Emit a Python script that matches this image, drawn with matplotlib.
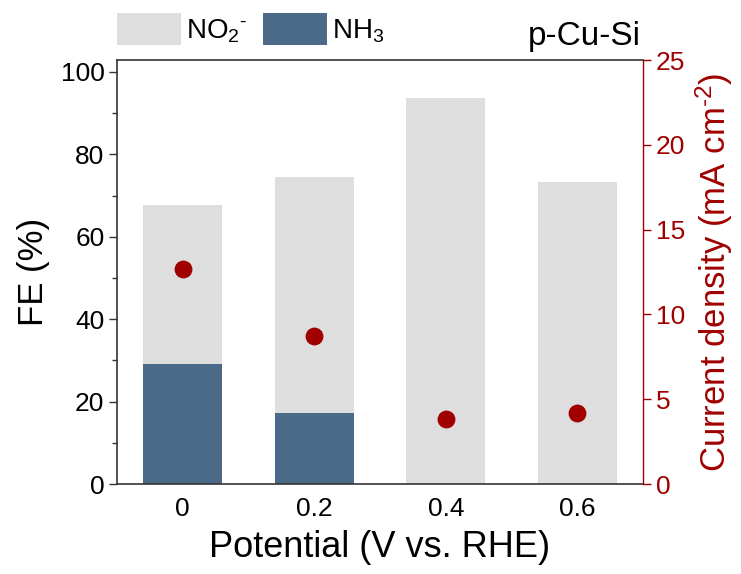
import matplotlib
matplotlib.use("Agg")
import matplotlib.pyplot as plt
import numpy as np

plt.rcParams['font.family'] = ['Liberation Sans', 'DejaVu Sans']
plt.rcParams['mathtext.fontset'] = 'custom'
plt.rcParams['mathtext.rm'] = 'Liberation Sans'
plt.rcParams['mathtext.it'] = 'Liberation Sans:italic'
plt.rcParams['mathtext.bf'] = 'Liberation Sans:bold'

potentials = ['0', '0.2', '0.4', '0.6']
fe_nh3 = [29.1, 17.2, 0.0, 0.0]
fe_no2 = [38.7, 57.3, 93.6, 73.4]
current_density = [12.7, 8.75, 3.83, 4.17]

c_no2 = '#DEDEDE'
c_nh3 = '#4B6A87'
c_red = '#A00000'

HY = '\u2010'  # short hyphen used as the superscript charge sign

fig = plt.figure(figsize=(7.41, 5.74), dpi=100)
ax = fig.add_axes([117/741, 1-484/574, (643-117)/741, (484-60)/574])
x = np.arange(len(potentials))

b1 = ax.bar(x, fe_nh3, width=0.6, color=c_nh3, zorder=2)
b2 = ax.bar(x, fe_no2, width=0.6, bottom=fe_nh3, color=c_no2, zorder=2)

ax.set_xlim(-0.5, 3.5)
ax.set_ylim(0, 102.9)
ax.set_xticks(x)
ax.set_xticklabels(potentials)
ax.set_yticks([0, 20, 40, 60, 80, 100])
ax.set_yticks([10, 30, 50, 70, 90], minor=True)
ax.tick_params(axis='x', length=0, pad=9, labelsize=19)
ax.tick_params(axis='y', which='major', length=6, width=1, direction='out',
               labelsize=19, pad=3, color='#333333')
ax.tick_params(axis='y', which='minor', length=3.5, width=1, direction='out',
               color='#333333')
for s in ['left', 'bottom', 'top']:
    ax.spines[s].set_color('#333333')
    ax.spines[s].set_linewidth(1.2)
ax.spines['right'].set_visible(False)
ax.set_ylabel('FE (%)', fontsize=25, labelpad=8)
ax.set_xlabel('Potential (V vs. RHE)', fontsize=26, labelpad=7)

ax2 = ax.twinx()
ax2.scatter(x, current_density, s=140, color=c_red, zorder=3)
ax2.set_ylim(0, 25)
ax2.set_yticks([0, 5, 10, 15, 20, 25])
ax2.tick_params(axis='y', length=6, width=1, direction='out', colors=c_red,
                labelsize=19, pad=3)
ax2.spines['right'].set_color(c_red)
ax2.spines['right'].set_linewidth(1.0)
for s in ['left', 'bottom', 'top']:
    ax2.spines[s].set_visible(False)
ax2.set_ylabel('Current density (mA cm$^{' + HY + '2}$)', fontsize=25,
               color=c_red, labelpad=6)

fig.legend(handles=[b2, b1], labels=['NO$_2$$^{' + HY + '}$', 'NH$_3$'],
           loc='upper left', bbox_to_anchor=(117/741, 1-13/574), ncol=2,
           frameon=False, fontsize=20, handlelength=2.3, handleheight=1.4,
           handletextpad=0.2, columnspacing=0.55, borderpad=0, borderaxespad=0)

fig.text(641/741, 1-36/574, 'p-Cu-Si', fontsize=24, ha='right', va='center')

fig.savefig('out.png', dpi=100)
